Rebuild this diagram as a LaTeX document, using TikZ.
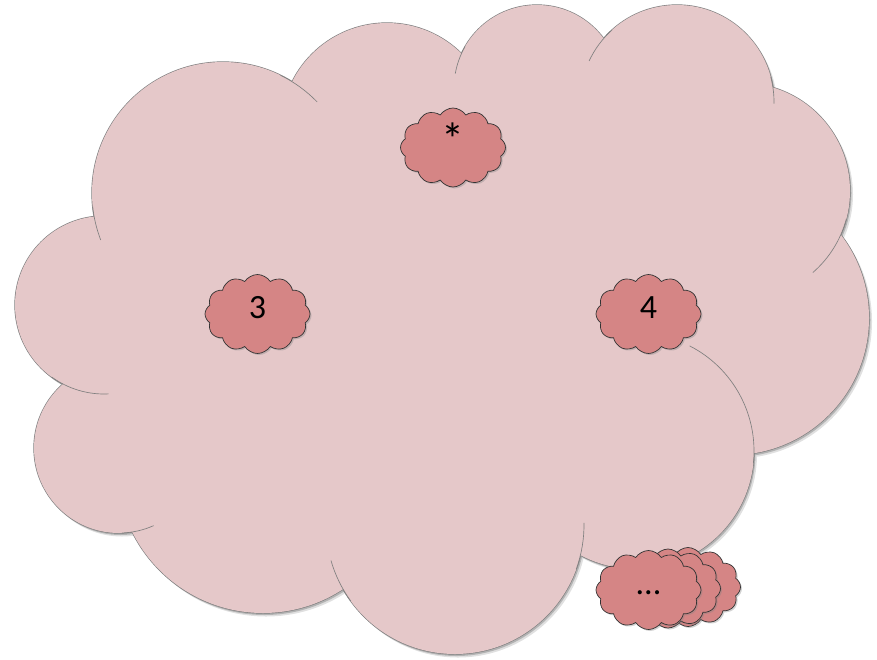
\documentclass[tikz,border=0pt]{standalone}
\usepackage{fontspec}
\setmainfont{Carlito}
\usepackage{xcolor}
\usepackage{tikz}
\usetikzlibrary{shapes.symbols, shadows}

\definecolor{bigpink}{HTML}{E5C8C9}
\definecolor{smallpink}{HTML}{D58585}
\definecolor{rimgray}{HTML}{7F7F7F}

% lobes of the big cloud: centre x / centre y / radius
\newcommand{\cloudlobes}{104/305/89, 223/193/131, 387/129/106, 537/88/83,
  677/102/97, 742/191/108, 732/318/137, 636/451/118, 455/525/129,
  263/467/146, 119/448/85}

\begin{document}
\begin{tikzpicture}[
  x=1pt, y=-1pt,
  rim/.style={draw=rimgray, line width=1.3pt},
  seam/.style={draw=rimgray, line width=0.65pt},
  puff/.style={cloud, cloud puffs=12, cloud puff arc=115, cloud ignores aspect,
               draw=black!80, line width=0.7pt, fill=smallpink,
               minimum width=105pt, minimum height=79pt, inner sep=0pt,
               font=\fontsize{34}{40}\selectfont, text height=22pt, text depth=14pt,
               drop shadow={shadow xshift=1.5pt, shadow yshift=-1.5pt, opacity=0.35}}
]
\useasboundingbox (0,0) rectangle (877,659);

% shadow of the big cloud
\fill[black, opacity=0.12, shift={(3,3.5)}]
  \foreach \cx/\cy/\r in \cloudlobes {(\cx,\cy) circle[radius=\r]};
\fill[black, opacity=0.2, shift={(1.5,2)}]
  \foreach \cx/\cy/\r in \cloudlobes {(\cx,\cy) circle[radius=\r]};

% outline, then body on top of it
\foreach \cx/\cy/\r in \cloudlobes
  \draw[rim] (\cx,\cy) circle[radius=\r];
\fill[bigpink]
  \foreach \cx/\cy/\r in \cloudlobes {(\cx,\cy) circle[radius=\r]};
\fill[bigpink] (104,305) -- (223,193) -- (387,129) -- (537,88) -- (677,102)
  -- (742,191) -- (732,318) -- (636,451) -- (455,525) -- (263,467)
  -- (119,448) -- cycle;

% inner arcs where one lobe runs into the next
\draw[seam] (223,193) ++(-64:131) arc[start angle=-64, end angle=-44, radius=131];
\draw[seam] (223,193) ++(174:131) arc[start angle=174, end angle=159, radius=131];
\draw[seam] (537,88)  ++(-150:83) arc[start angle=-150, end angle=-170, radius=83];
\draw[seam] (677,102) ++(-132:97) arc[start angle=-132, end angle=-155, radius=97];
\draw[seam] (677,102) ++(-15:97)  arc[start angle=-15, end angle=1, radius=97];
\draw[seam] (742,191) ++(15:108)  arc[start angle=15, end angle=49, radius=108];
\draw[seam] (636,451) ++(6:118)   arc[start angle=6, end angle=-63, radius=118];
\draw[seam] (455,525) ++(20:129)  arc[start angle=20, end angle=-1, radius=129];
\draw[seam] (455,525) ++(144:129) arc[start angle=144, end angle=164, radius=129];
\draw[seam] (119,448) ++(88:85)   arc[start angle=88, end angle=66, radius=85];
\draw[seam] (104,305) ++(126:89)  arc[start angle=126, end angle=87, radius=89];

% small clouds
\node[puff] (star)  at (453,147.5) {\raisebox{-4pt}{\fontsize{46}{50}\selectfont *}};
\node[puff] (three) at (257.5,314) {3};
\node[puff] (four)  at (648.5,314) {4};
\node[puff] (more3) at (688,587)   {};
\node[puff] (more2) at (668,588.5) {};
\node[puff] (more)  at (648.5,590) {...};
\end{tikzpicture}
\end{document}
